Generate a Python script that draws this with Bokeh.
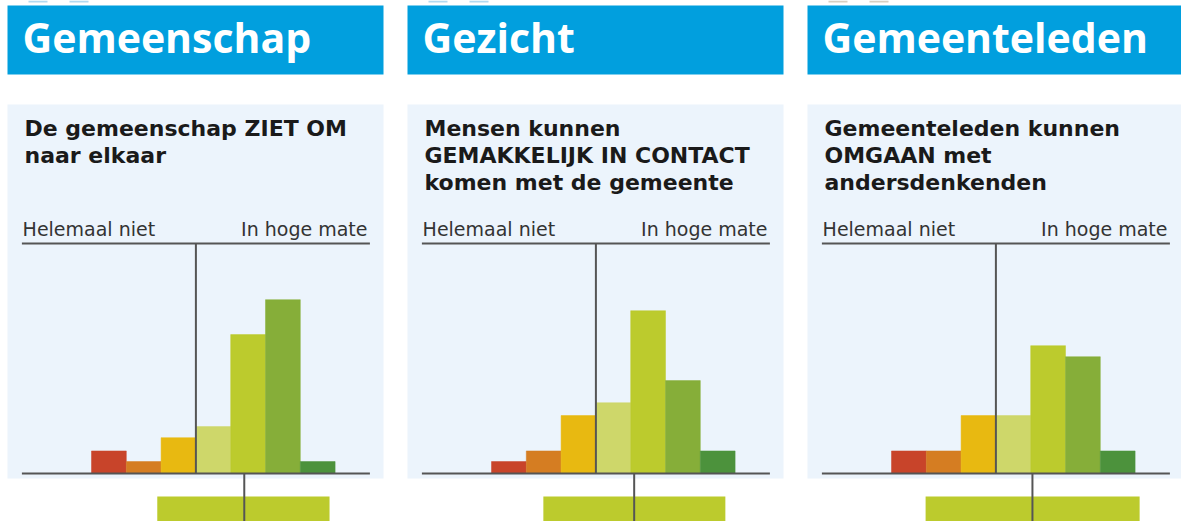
from bokeh.plotting import figure
from bokeh.layouts import row
from bokeh.models import Range1d
from bokeh.embed import file_html
from bokeh.resources import INLINE
from bokeh.core.properties import value

# ---------------- data ----------------
headers = ["Gemeenschap", "Gezicht", "Gemeenteleden"]
questions = [
    ["De gemeenschap ZIET OM", "naar elkaar"],
    ["Mensen kunnen", "GEMAKKELIJK IN CONTACT", "komen met de gemeente"],
    ["Gemeenteleden kunnen", "OMGAAN met", "andersdenkenden"],
]
left_label = "Helemaal niet"
right_label = "In hoge mate"

scale_points = [1, 2, 3, 4, 5, 6, 7]
pct_gemeenschap = [5.1, 2.7, 8.1, 10.6, 31.4, 39.3, 2.7]
pct_gezicht = [2.7, 5.1, 13.1, 16.0, 36.8, 21.0, 5.1]
pct_gemeenteleden = [5.1, 5.1, 13.1, 13.1, 28.9, 26.4, 5.1]
pcts = [pct_gemeenschap, pct_gezicht, pct_gemeenteleden]

range_low = [2.39, 1.99, 1.48]
range_high = [7.34, 7.22, 7.63]
mean_score = [4.89, 4.60, 4.55]

axis_left, axis_mid, axis_right = -1.5, 3.5, 8.5
axis_top = 52

bar_colors = ["#C8442A", "#D57D22", "#E8B911", "#CED76A", "#BCCB2D", "#86AE39", "#4C923C"]
BLUE = "#019FDE"
PANEL_BG = "#ECF4FC"
LINE = "#555555"
LIME = "#BCCB2D"
HEAD_FONT = "Open Sans"
BODY_FONT = "DejaVu Sans"

# pixel helpers (panel-relative) for decoration placement
PXU = 34.8
PYU = 4.423
H = 521


def fx(px):
    return 0.5 + (px - 91) / PXU


def fy(py):
    return (473 - py) / PYU


def make_panel(i, W):
    p = figure(width=W, height=H, output_backend="svg", toolbar_location=None,
               x_axis_type=None, y_axis_type=None,
               x_range=Range1d(fx(0), fx(W)), y_range=Range1d(fy(H), fy(0)),
               min_border=0, outline_line_color=None,
               background_fill_color="white", border_fill_color="white")
    p.grid.visible = False

    # tiny cropped marks at top
    mark_col = "#D8CFC2" if i == 2 else "#B3D9F0"
    p.quad(left=[fx(28), fx(69)], right=[fx(47), fx(88)], top=[fy(0), fy(0)],
           bottom=[fy(2), fy(2)], fill_color=mark_col, line_color=None)

    # header
    p.quad(left=[fx(7)], right=[fx(383)], top=[fy(5)], bottom=[fy(74)],
           fill_color=BLUE, line_color=None)
    p.text(x=[fx(22)], y=[fy(36)], text=[headers[i]], text_font=value(HEAD_FONT),
           text_font_style="bold", text_font_size="41px", text_color="white",
           text_baseline="alphabetic")

    # panel background
    p.quad(left=[fx(7)], right=[fx(383)], top=[fy(104)], bottom=[fy(478)],
           fill_color=PANEL_BG, line_color=None)

    # question lines
    for j, line in enumerate(questions[i]):
        p.text(x=[fx(24)], y=[fy(128 + 27 * j)], text=[line], text_font=value(BODY_FONT),
               text_font_style="bold", text_font_size="22px", text_color="#1a1a1a",
               text_baseline="alphabetic")

    # end labels
    p.text(x=[axis_left + 0.02], y=[fy(228)], text=[left_label], text_font=value(BODY_FONT),
           text_font_size="19px", text_color="#333333", text_baseline="alphabetic",
           text_align="left")
    p.text(x=[axis_right - 0.07], y=[fy(228)], text=[right_label], text_font=value(BODY_FONT),
           text_font_size="19px", text_color="#333333", text_baseline="alphabetic",
           text_align="right")

    # bars
    p.vbar(x=scale_points, top=pcts[i], bottom=0, width=1.0,
           fill_color=bar_colors, line_color=bar_colors, line_width=0.5)

    # axis lines
    p.segment(x0=[axis_left, axis_left], x1=[axis_right, axis_right],
              y0=[axis_top, 0], y1=[axis_top, 0], line_color=LINE, line_width=2)
    p.segment(x0=[axis_mid], x1=[axis_mid], y0=[0], y1=[axis_top],
              line_color=LINE, line_width=2)

    # range bar + mean line
    p.quad(left=[range_low[i]], right=[range_high[i]], top=[fy(496)], bottom=[fy(H)],
           fill_color=LIME, line_color=None)
    p.segment(x0=[mean_score[i]], x1=[mean_score[i]], y0=[0], y1=[fy(H)],
              line_color=LINE, line_width=2)
    return p


panels = [make_panel(0, 400), make_panel(1, 400), make_panel(2, 381)]
layout = row(*panels, spacing=0)

open("out.html", "w").write(file_html(layout, INLINE))
